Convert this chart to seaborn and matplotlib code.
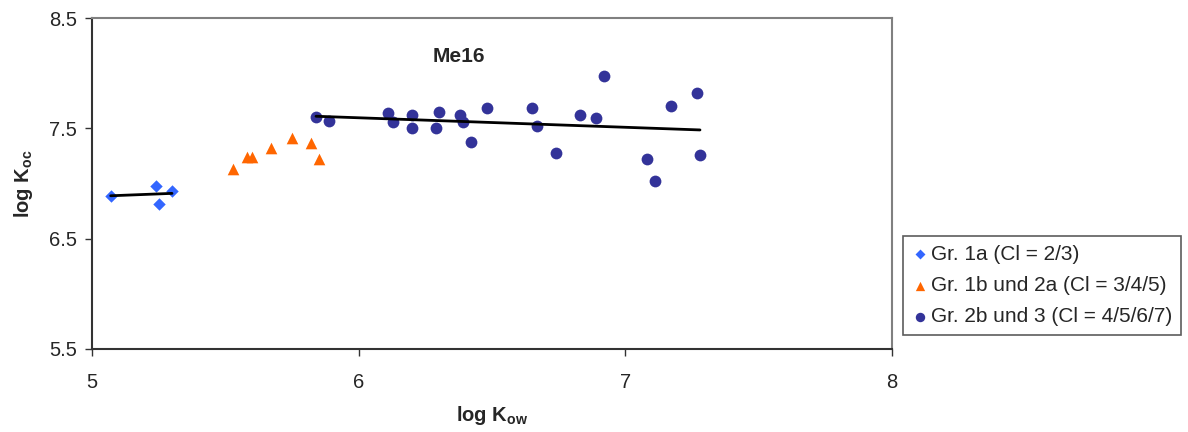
import matplotlib
matplotlib.use("Agg")
import matplotlib.pyplot as plt
import pandas as pd
import seaborn as sns

# Gr. 1a (Cl = 2/3)
x_1a = [5.07, 5.24, 5.25, 5.30]
y_1a = [6.89, 6.98, 6.81, 6.93]

# Gr. 1b und 2a (Cl = 3/4/5)
x_1b = [5.53, 5.58, 5.60, 5.67, 5.75, 5.82, 5.85]
y_1b = [7.13, 7.24, 7.24, 7.32, 7.41, 7.37, 7.22]

# Gr. 2b und 3 (Cl = 4/5/6/7)
x_2b = [5.84, 5.89, 6.11, 6.13, 6.20, 6.20, 6.29, 6.30, 6.38, 6.39, 6.42, 6.48,
        6.65, 6.67, 6.74, 6.83, 6.89, 6.92, 7.08, 7.11, 7.17, 7.27, 7.28]
y_2b = [7.60, 7.57, 7.64, 7.56, 7.62, 7.50, 7.50, 7.65, 7.62, 7.56, 7.38, 7.68,
        7.68, 7.52, 7.28, 7.62, 7.59, 7.97, 7.22, 7.02, 7.70, 7.82, 7.26]

labels = ["Gr. 1a (Cl = 2/3)", "Gr. 1b und 2a (Cl = 3/4/5)", "Gr. 2b und 3 (Cl = 4/5/6/7)"]
colors = ["#3366FF", "#FF6600", "#333399"]
markers = ["D", "^", "o"]

df = pd.DataFrame({
    "logKow": x_1a + x_1b + x_2b,
    "logKoc": y_1a + y_1b + y_2b,
    "group": [labels[0]] * len(x_1a) + [labels[1]] * len(x_1b) + [labels[2]] * len(x_2b),
})

sns.set_style("white")
plt.rcParams["font.family"] = ["Liberation Sans", "DejaVu Sans"]

fig = plt.figure(figsize=(11.88, 4.32), dpi=100)
ax = fig.add_axes([92 / 1188, 1 - 349 / 432, 800 / 1188, 331 / 432])

sizes = {labels[0]: 40, labels[1]: 70, labels[2]: 72}
for lab, col, mk in zip(labels, colors, markers):
    sub = df[df["group"] == lab]
    sns.scatterplot(data=sub, x="logKow", y="logKoc", color=col, marker=mk,
                    s=sizes[lab], linewidth=0, label=lab, ax=ax, zorder=3)

# trend lines
for lab in [labels[0], labels[2]]:
    sub = df[df["group"] == lab]
    sns.regplot(data=sub, x="logKow", y="logKoc", scatter=False, ci=None,
                truncate=True, color="black", line_kws={"lw": 2, "zorder": 4}, ax=ax)

ax.set_xlim(5, 8)
ax.set_ylim(5.5, 8.5)
ax.set_xticks([5, 6, 7, 8])
ax.set_yticks([5.5, 6.5, 7.5, 8.5])
ax.set_yticklabels(["5.5", "6.5", "7.5", "8.5"])
ax.tick_params(axis="both", direction="out", length=5, width=1, color="#333333",
               labelsize=14.5, left=True, bottom=True)
ax.tick_params(axis="x", pad=12)
ax.tick_params(axis="y", pad=6)

for side in ["left", "bottom"]:
    ax.spines[side].set_color("#333333")
    ax.spines[side].set_linewidth(1.5)
for side in ["top", "right"]:
    ax.spines[side].set_color("#808080")
    ax.spines[side].set_linewidth(1.5)

ax.set_xlabel(r"log K$_{\mathregular{ow}}$", fontsize=14.5, fontweight="bold", labelpad=9)
ax.set_ylabel(r"log K$_{\mathregular{oc}}$", fontsize=14.5, fontweight="bold", labelpad=10)

ax.text(0.459, 0.885, "Me16", transform=ax.transAxes, ha="center", va="center",
        fontsize=15, fontweight="bold")

leg = ax.legend(loc="center left", bbox_to_anchor=(903 / 1188, 1 - 285.5 / 432),
                bbox_transform=fig.transFigure, frameon=True, fancybox=False,
                fontsize=15, handletextpad=0.15, borderpad=0.4, labelspacing=0.6,
                handlelength=0.8, markerscale=0.8, borderaxespad=0)
leg.get_frame().set_edgecolor("#333333")
leg.get_frame().set_linewidth(1.2)

fig.savefig("out.png", dpi=100)
